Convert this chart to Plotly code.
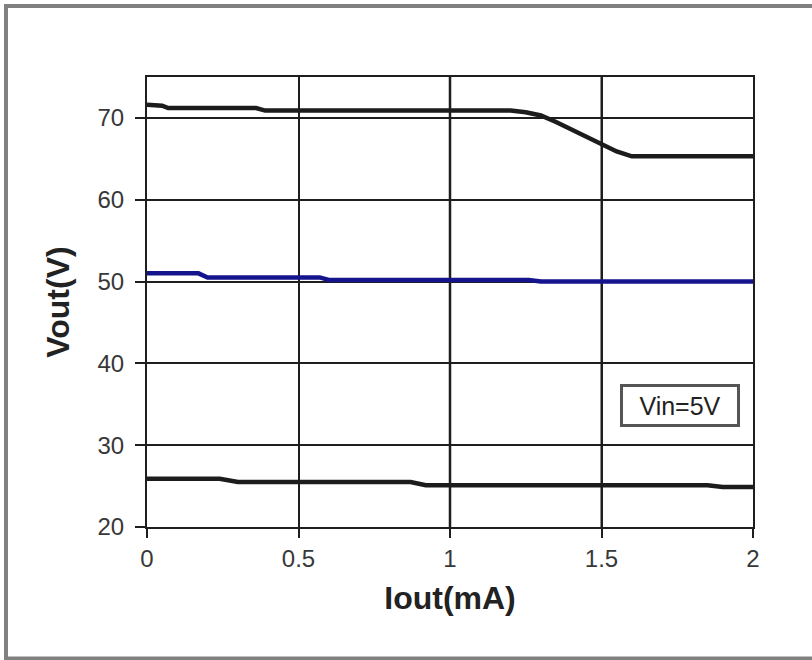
import plotly.graph_objects as go

# Data
iout_top = [0, 0.05, 0.07, 0.36, 0.39, 1.2, 1.25, 1.3, 1.35, 1.4, 1.45, 1.5, 1.55, 1.6, 2.0]
vout_top = [71.6, 71.5, 71.2, 71.2, 70.9, 70.9, 70.7, 70.3, 69.5, 68.6, 67.6, 66.7, 65.9, 65.3, 65.3]

iout_mid = [0, 0.17, 0.2, 0.57, 0.6, 1.26, 1.3, 2.0]
vout_mid = [51.0, 51.0, 50.5, 50.5, 50.2, 50.2, 50.0, 50.0]

iout_low = [0, 0.24, 0.3, 0.87, 0.92, 1.85, 1.9, 2.0]
vout_low = [25.9, 25.9, 25.5, 25.5, 25.1, 25.1, 24.9, 24.9]

x_ticks = [0, 0.5, 1, 1.5, 2]
x_tick_labels = ["0", "0.5", "1", "1.5", "2"]
y_ticks = [20, 30, 40, 50, 60, 70]

legend_text = "Vin=5V"

fig = go.Figure()
fig.add_trace(go.Scatter(x=iout_top, y=vout_top, mode="lines",
                         line=dict(color="#1c1c1c", width=4.5), showlegend=False))
fig.add_trace(go.Scatter(x=iout_mid, y=vout_mid, mode="lines",
                         line=dict(color="#14148c", width=4.5), showlegend=False))
fig.add_trace(go.Scatter(x=iout_low, y=vout_low, mode="lines",
                         line=dict(color="#1c1c1c", width=4.5), showlegend=False))

font_family = "Liberation Sans, Arial, sans-serif"

fig.update_layout(
    width=812, height=660,
    margin=dict(l=147, r=59, t=77, b=133),
    paper_bgcolor="white", plot_bgcolor="white",
    font=dict(family=font_family, color="#333333"),
    xaxis=dict(
        range=[0, 2], tickvals=x_ticks, ticktext=x_tick_labels,
        showgrid=True, gridcolor="#1e1e1e", gridwidth=1.5,
        showline=True, linecolor="#1e1e1e", linewidth=2, mirror=True,
        ticks="outside", ticklen=9, tickcolor="#1e1e1e", tickwidth=2,
        tickfont=dict(size=24, color="#383838"),
        title=dict(text="<b>Iout(mA)</b>", font=dict(size=32, color="#222222"), standoff=16),
        zeroline=False,
    ),
    yaxis=dict(
        range=[20, 75], tickvals=y_ticks,
        showgrid=True, gridcolor="#1e1e1e", gridwidth=1.5,
        showline=True, linecolor="#1e1e1e", linewidth=2, mirror=True,
        ticks="outside", ticklen=10, tickcolor="#1e1e1e", tickwidth=2,
        ticklabelstandoff=6,
        tickfont=dict(size=24, color="#383838"),
        title=dict(text="<b>Vout(V)</b>", font=dict(size=32, color="#222222"), standoff=18),
        zeroline=False,
    ),
    shapes=[
        dict(type="line", xref="x", yref="paper", x0=1, x1=1, y0=0, y1=1,
             line=dict(color="#8c8c8c", width=3), layer="below"),
        dict(type="line", xref="x", yref="paper", x0=1.5, x1=1.5, y0=0, y1=1,
             line=dict(color="#8c8c8c", width=3), layer="below"),
        dict(type="rect", xref="paper", yref="paper", x0=-0.2327, x1=1.12, y0=-0.2922, y1=1.1578,
             line=dict(color="#808080", width=4), fillcolor="rgba(0,0,0,0)", layer="above"),
    ],
    annotations=[
        dict(x=1.76, y=34.9, xref="x", yref="y", text=legend_text, showarrow=False,
             font=dict(size=25, color="#222222"), bgcolor="white",
             width=112, height=35, borderpad=1,
             bordercolor="#555555", borderwidth=3),
    ],
)

fig.write_html("out.html", config={"displayModeBar": False},
               post_script="document.body.style.margin='0px';")
